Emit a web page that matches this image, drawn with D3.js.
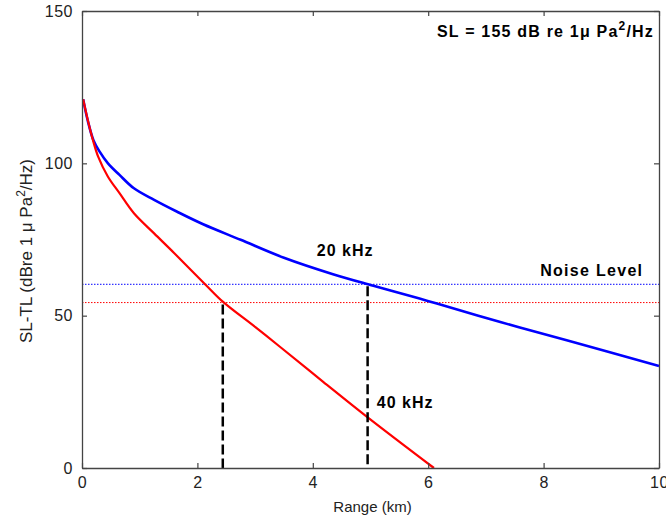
<!DOCTYPE html>
<html>
<head>
<meta charset="utf-8">
<script src="https://cdn.jsdelivr.net/npm/d3@7"></script>
<style>
  body { margin: 0; background: #fff; }
  text { font-family: "Liberation Sans", Arial, sans-serif; }
</style>
</head>
<body>
<div id="chart"></div>
<script>
// transmission-loss curves
const range20 = [0.02, 0.1, 0.2, 0.3, 0.45, 0.65, 0.9, 1.25, 1.65, 2.1, 2.75, 3.5, 4.35, 5.05, 5.85, 6.15, 7.25, 8.4, 10];
const level20 = [121, 114, 107.5, 104, 100, 96.2, 91.8, 88, 84.1, 80, 74.9, 69.0, 63.6, 59.8, 55.6, 54.0, 47.9, 41.9, 33.5];

const range40 = [0.02, 0.1, 0.19, 0.28, 0.45, 0.65, 0.9, 1.25, 1.6, 2.15, 2.44, 3.0, 3.43, 4.18, 4.94, 6.1];
const level40 = [121, 114.2, 107.6, 102.2, 95.6, 90.2, 83.6, 77, 70.5, 60.0, 54.6, 46.3, 39.8, 28.3, 16.8, 0];

// noise levels and detection ranges
const noise20 = 60.3, noise40 = 54.3;
const detect20 = 4.95, detect40 = 2.44;

const xTicks = [0, 2, 4, 6, 8, 10];
const yTicks = [0, 50, 100, 150];

const margin = {top: 11, right: 7, bottom: 57, left: 82},
    width = 666 - margin.left - margin.right,
    height = 525 - margin.top - margin.bottom;

const svg = d3.select("#chart")
    .append("svg")
    .attr("width", 666)
    .attr("height", 525)
    .append("g")
    .attr("transform", `translate(${margin.left},${margin.top})`);

const x = d3.scaleLinear().domain([0, 10]).range([0, width]);
const y = d3.scaleLinear().domain([0, 150]).range([height, 0]);

// noise level lines (dotted)
[[noise20, "#0000ff"], [noise40, "#ff0000"]].forEach(function (d) {
    svg.append("line")
        .attr("x1", x(0)).attr("x2", x(10))
        .attr("y1", y(d[0])).attr("y2", y(d[0]))
        .attr("stroke", d[1]).attr("stroke-width", 1)
        .attr("stroke-dasharray", "1.5,1.5");
});

const line = d3.line()
    .x(d => x(d[0]))
    .y(d => y(d[1]))
    .curve(d3.curveCatmullRom.alpha(0.5));

svg.append("path")
    .datum(range20.map((r, i) => [r, level20[i]]))
    .attr("fill", "none")
    .attr("stroke", "#0000ff")
    .attr("stroke-width", 2.6)
    .attr("d", line);

svg.append("path")
    .datum(range40.map((r, i) => [r, level40[i]]))
    .attr("fill", "none")
    .attr("stroke", "#ff0000")
    .attr("stroke-width", 2.2)
    .attr("d", line);

// detection range markers
[[detect40, noise40], [detect20, noise20]].forEach(function (d) {
    svg.append("line")
        .attr("x1", x(d[0])).attr("x2", x(d[0]))
        .attr("y1", y(d[1]) + 2).attr("y2", y(0))
        .attr("stroke", "#000").attr("stroke-width", 2.5)
        .attr("stroke-dasharray", "10,4");
});

// axes box with inward ticks on all sides
const axisColor = "#444";
svg.append("g")
    .attr("transform", `translate(0,${height})`)
    .call(d3.axisBottom(x).tickValues(xTicks).tickSize(-5).tickSizeOuter(0).tickPadding(9));
svg.append("g")
    .call(d3.axisTop(x).tickValues(xTicks).tickSize(-5).tickSizeOuter(0).tickFormat(""));
svg.append("g")
    .call(d3.axisLeft(y).tickValues(yTicks).tickSize(-5).tickSizeOuter(0).tickPadding(9));
svg.append("g")
    .attr("transform", `translate(${width},0)`)
    .call(d3.axisRight(y).tickValues(yTicks).tickSize(-5).tickSizeOuter(0).tickFormat(""));

svg.selectAll(".domain").attr("stroke", axisColor).attr("stroke-width", 1.3);
svg.selectAll(".tick line").attr("stroke", axisColor).attr("stroke-width", 1.2);
svg.selectAll(".tick text")
    .attr("fill", "#222")
    .style("font-size", "16px")
    .style("letter-spacing", "0.5px")
    .style("font-family", "'Liberation Sans', Arial, sans-serif");

// axis titles
svg.append("text")
    .attr("x", x(5) + 2)
    .attr("y", height + 44)
    .attr("text-anchor", "middle")
    .style("font-size", "15px")
    .attr("fill", "#222")
    .text("Range (km)");

const ylab = svg.append("text")
    .attr("transform", `translate(${-margin.left + 32},240) rotate(-90)`)
    .attr("text-anchor", "middle")
    .style("font-size", "17px")
    .attr("fill", "#222");
ylab.append("tspan").text("SL-TL (dBre 1 \u03bc Pa");
ylab.append("tspan").attr("dy", -7).style("font-size", "12px").text("2");
ylab.append("tspan").attr("dy", 7).text("/Hz)");

// annotations
const sl = svg.append("text")
    .attr("x", width - 5)
    .attr("y", 26)
    .attr("text-anchor", "end")
    .style("font-size", "16px")
    .style("font-weight", "bold")
    .style("letter-spacing", "1.2px")
    .attr("fill", "#000");
sl.append("tspan").text("SL = 155 dB re 1\u03bc Pa");
sl.append("tspan").attr("dy", -7).style("font-size", "12px").text("2");
sl.append("tspan").attr("dy", 7).text("/Hz");

svg.append("text")
    .attr("x", x(4.07))
    .attr("y", 245)
    .style("font-size", "16px")
    .style("font-weight", "bold")
    .style("letter-spacing", "1px")
    .text("20 kHz");

svg.append("text")
    .attr("x", x(7.94))
    .attr("y", 265)
    .style("font-size", "16px")
    .style("font-weight", "bold")
    .style("letter-spacing", "1.3px")
    .text("Noise Level");

svg.append("text")
    .attr("x", x(5.11))
    .attr("y", 397)
    .style("font-size", "16px")
    .style("font-weight", "bold")
    .style("letter-spacing", "1px")
    .text("40 kHz");
</script>
</body>
</html>
